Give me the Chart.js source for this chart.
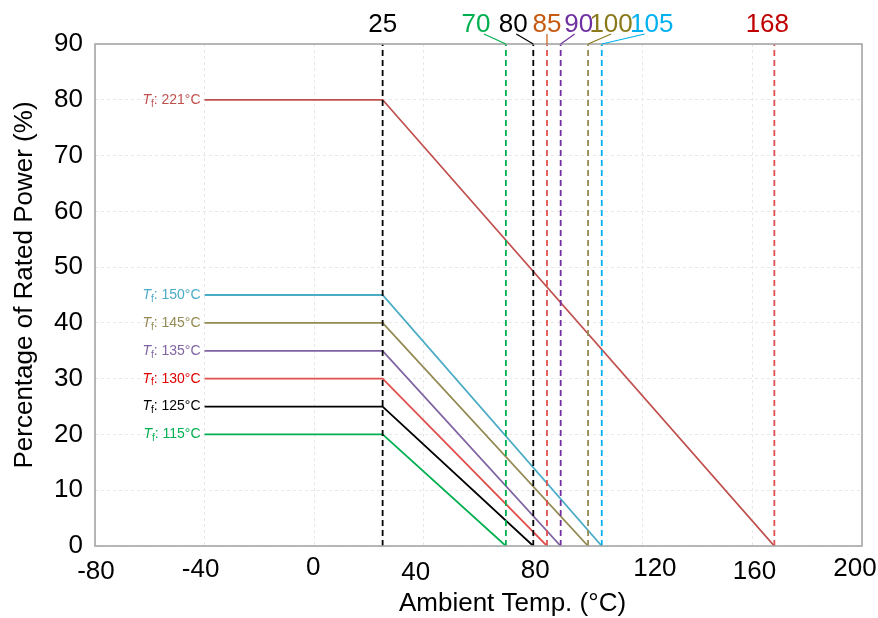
<!DOCTYPE html>
<html>
<head>
<meta charset="utf-8">
<script src="https://cdn.jsdelivr.net/npm/chart.js@4"></script>
<style>
  html, body { margin: 0; padding: 0; background: #fff; }
  canvas { display: block; }
</style>
</head>
<body>
<canvas id="derating" width="878" height="618"></canvas>
<script>
// Derating curves: flat from -40 °C up to the knee, then linear down to 0 %
const tfValues = ['221', '150', '145', '135', '130', '125', '115'];
const plateauPct = [80, 45, 40, 35, 30, 25, 20];
const zeroTemps = [168, 105, 100, 90, 85, 80, 70];
const startTemp = -40;
const kneeTemp = 25;
const markerTemps = [25, 70, 80, 85, 90, 100, 105, 168];
const xTicks = [-80, -40, 0, 40, 80, 120, 160, 200];
const yTicks = [0, 10, 20, 30, 40, 50, 60, 70, 80, 90];

// styling
const FONT = '"Liberation Sans", Arial, sans-serif';
const curveColors = ['#c0504d', '#4bacc6', '#948a54', '#8064a2', '#e0504d', '#000000', '#00b050'];
const tfTextColors = ['#c0504d', '#4bacc6', '#948a54', '#8064a2', '#e00000', '#000000', '#00b050'];
const markerLineColors = ['#000000', '#00b050', '#000000', '#e05050', '#7030a0', '#948a54', '#00b0f0', '#e05050'];
const markerTextColors = ['#000000', '#00b050', '#000000', '#c55a11', '#7030a0', '#8a7a1c', '#00b0f0', '#c00000'];
// label shift from its dashed line, and whether a leader line is drawn (leader start shift from label centre)
const markerShift = [0, -30, -20, 0, 18, 23, 50, -7];
const leaderShift = [null, 8, 3, 0, -4, 0, -7, null];
// small per-label nudges seen on the x tick labels of the original
const xTickNudge = [[1, 572], [-4, 570], [-1, 568], [-8, 573], [2, 571], [12, 569], [2, 572], [-7, 569]];

const datasets = [];
markerTemps.forEach((t, i) => {
    datasets.push({
        data: [{x: t, y: 0}, {x: t, y: 90}],
        borderColor: markerLineColors[i],
        borderWidth: 1.8,
        borderDash: [6, 4],
        pointRadius: 0,
        fill: false,
    });
});
tfValues.forEach((tf, i) => {
    datasets.push({
        data: [
            {x: startTemp, y: plateauPct[i]},
            {x: kneeTemp, y: plateauPct[i]},
            {x: zeroTemps[i], y: 0},
        ],
        borderColor: curveColors[i],
        borderWidth: 1.8,
        pointRadius: 0,
        tension: 0,
        fill: false,
    });
});

const annotate = {
    id: 'annotate',
    afterDatasetsDraw(chart) {
        const {ctx, chartArea: a, scales: {x, y}} = chart;
        ctx.save();

        // plot frame
        ctx.strokeStyle = '#a6a6a6';
        ctx.lineWidth = 1.6;
        ctx.strokeRect(a.left, a.top, a.right - a.left, a.bottom - a.top);

        // x tick labels
        ctx.fillStyle = '#000';
        ctx.font = '26px ' + FONT;
        ctx.textAlign = 'center';
        ctx.textBaseline = 'middle';
        xTicks.forEach((v, i) => {
            ctx.fillText(String(v), x.getPixelForValue(v) + xTickNudge[i][0], xTickNudge[i][1]);
        });

        // axis titles
        ctx.fillText('Ambient Temp. (°C)', (a.left + a.right) / 2 + 34, 604);
        ctx.save();
        ctx.translate(25, (a.top + a.bottom) / 2 - 10);
        ctx.rotate(-Math.PI / 2);
        ctx.fillText('Percentage of Rated Power (%)', 0, 0);
        ctx.restore();

        // temperature markers above the plot
        markerTemps.forEach((t, i) => {
            const px = x.getPixelForValue(t);
            const lx = px + markerShift[i];
            ctx.fillStyle = markerTextColors[i];
            ctx.fillText(String(t), lx, 25);
            if (leaderShift[i] !== null) {
                ctx.strokeStyle = markerTextColors[i];
                ctx.lineWidth = 1.2;
                ctx.beginPath();
                ctx.moveTo(lx + leaderShift[i], 34);
                ctx.lineTo(px, a.top);
                ctx.stroke();
            }
        });

        // Tf labels at the start of each curve
        ctx.textAlign = 'left';
        tfValues.forEach((tf, i) => {
            const py = y.getPixelForValue(plateauPct[i]);
            const right = x.getPixelForValue(startTemp) - 4;
            const rest = ': ' + tf + '°C';
            ctx.font = 'italic 14px ' + FONT;
            const wT = ctx.measureText('T').width;
            ctx.font = '10px ' + FONT;
            const wf = ctx.measureText('f').width;
            ctx.font = '14px ' + FONT;
            const wr = ctx.measureText(rest).width;
            let cx = right - (wT + wf + wr);
            ctx.fillStyle = tfTextColors[i];
            ctx.font = 'italic 14px ' + FONT;
            ctx.fillText('T', cx, py);
            cx += wT;
            ctx.font = '10px ' + FONT;
            ctx.fillText('f', cx, py + 4);
            cx += wf;
            ctx.font = '14px ' + FONT;
            ctx.fillText(rest, cx, py);
        });

        ctx.restore();
    }
};

new Chart(document.getElementById('derating'), {
    type: 'line',
    data: {datasets},
    options: {
        responsive: false,
        animation: false,
        devicePixelRatio: 1,
        layout: {padding: {top: 44, right: 16, left: 0, bottom: 0}},
        plugins: {legend: {display: false}, tooltip: {enabled: false}},
        scales: {
            x: {
                type: 'linear',
                min: -80,
                max: 200,
                afterBuildTicks: (s) => { s.ticks = xTicks.map(v => ({value: v})); },
                afterFit: (s) => { s.height = 72; },
                ticks: {display: false},
                grid: {color: '#e8e8e8', drawTicks: false},
                border: {display: false, dash: [3, 3]},
            },
            y: {
                min: 0,
                max: 90,
                afterBuildTicks: (s) => { s.ticks = yTicks.map(v => ({value: v})); },
                afterFit: (s) => { s.width = 95; },
                ticks: {color: '#000', padding: 12, font: {size: 26, family: FONT}},
                grid: {color: '#e8e8e8', drawTicks: false},
                border: {display: false, dash: [3, 3]},
            },
        },
    },
    plugins: [annotate],
});
</script>
</body>
</html>
